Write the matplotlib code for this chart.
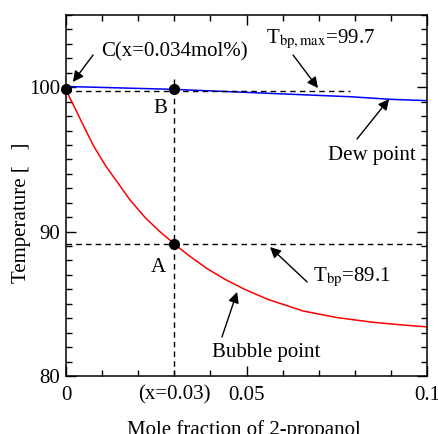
import numpy as np
import matplotlib
matplotlib.use("Agg")
import matplotlib.pyplot as plt
from matplotlib.ticker import MultipleLocator

# bubble point curve (liquid)
bubble_x = [0, 0.002, 0.005, 0.0076, 0.011, 0.014, 0.0177, 0.022, 0.026, 0.03,
            0.034, 0.039, 0.044, 0.0495, 0.056, 0.0657, 0.075, 0.085, 0.0925, 0.1]
bubble_t = [99.8, 98.8, 97.25, 95.95, 94.55, 93.5, 92.2, 90.95, 90.0, 89.15,
            88.35, 87.45, 86.7, 86.0, 85.3, 84.5, 84.05, 83.72, 83.55, 83.4]

# dew point curve (vapour)
dew_x = [0, 0.03, 0.0787, 0.09, 0.1]
dew_t = [100.05, 99.85, 99.34, 99.16, 99.07]

# marked points
pt_x = [0, 0.03, 0.03]
pt_t = [99.85, 99.85, 89.15]
pt_names = ["C", "B", "A"]

x_feed = 0.03
t_bp = 89.15
t_bp_max = 99.8

plt.rcParams['font.family'] = ['Liberation Serif', 'DejaVu Serif']
plt.rcParams['mathtext.fontset'] = 'stix'
plt.rcParams['font.size'] = 15

fig = plt.figure(figsize=(4.38, 4.34), dpi=100)
ax = fig.add_axes([66/438, 1-376/434, 361/438, 361/434])

ax.plot(bubble_x, bubble_t, color='#ff0000', lw=1.1)
ax.plot(dew_x, dew_t, color='#0000ff', lw=1.1)

dash = dict(color='k', lw=1.0, ls=(0, (4, 3)))
ax.plot([x_feed, x_feed], [80, 100.6], **dash)
ax.plot([0, 0.1], [t_bp, t_bp], **dash)
ax.plot([0, 0.0787], [t_bp_max - 0.05, t_bp_max - 0.05], **dash)

ax.plot(pt_x, pt_t, 'o', color='k', ms=7, clip_on=False, zorder=5)

ax.text(0.026, 98.5, "B", ha='center', va='center')
ax.text(0.0255, 87.5, "A", ha='center', va='center')

ax.text(0.0098, 102.45, "C(x=0.034mol%)", ha='left', va='center')
ax.text(0.0555, 103.3, r"T$_{\rm bp,max}$=99.7", ha='left', va='center')
ax.text(0.0725, 95.25, "Dew point", ha='left', va='center')
ax.text(0.0683, 86.85, r"T$_{\rm bp}$=89.1", ha='left', va='center')
ax.text(0.0405, 81.65, "Bubble point", ha='left', va='center')

arr = dict(arrowstyle='-|>', color='k', lw=1.0, mutation_scale=16,
           shrinkA=0, shrinkB=0)
ax.annotate('', xy=(0.0019, 100.36), xytext=(0.0075, 102.23), arrowprops=arr)
ax.annotate('', xy=(0.0698, 99.94), xytext=(0.0629, 102.23), arrowprops=arr)
ax.annotate('', xy=(0.0895, 99.18), xytext=(0.0806, 96.41), arrowprops=arr)
ax.annotate('', xy=(0.0565, 88.93), xytext=(0.0668, 86.51), arrowprops=arr)
ax.annotate('', xy=(0.0474, 85.82), xytext=(0.0432, 82.7), arrowprops=arr)

ax.set_xlim(0, 0.1)
ax.set_ylim(80, 105)
ax.set_xticks([0, 0.03, 0.05, 0.1])
ax.set_xticklabels(["0", "(x=0.03)", "0.05", "0.1"])
ax.xaxis.set_minor_locator(MultipleLocator(0.01))
ax.set_yticks([80, 90, 100])
ax.yaxis.set_minor_locator(MultipleLocator(1))
ax.tick_params(which='both', direction='in', top=True, right=True, width=1.0)
ax.tick_params(which='major', length=7, pad=4)
ax.tick_params(axis='x', which='major', pad=7)
ax.tick_params(which='minor', length=4)
t03 = ax.xaxis.get_major_ticks()[1]
t03.tick1line.set_markersize(4)
t03.tick2line.set_markersize(4)
for s in ax.spines.values():
    s.set_linewidth(1.1)

ax.set_xlabel("Mole fraction of 2-propanol")
ax.xaxis.set_label_coords(0.493, -0.122)
ax.set_ylabel("Temperature [   ]")
ax.yaxis.set_label_coords(-0.097, 0.4515)

fig.savefig("out.png", dpi=100)
